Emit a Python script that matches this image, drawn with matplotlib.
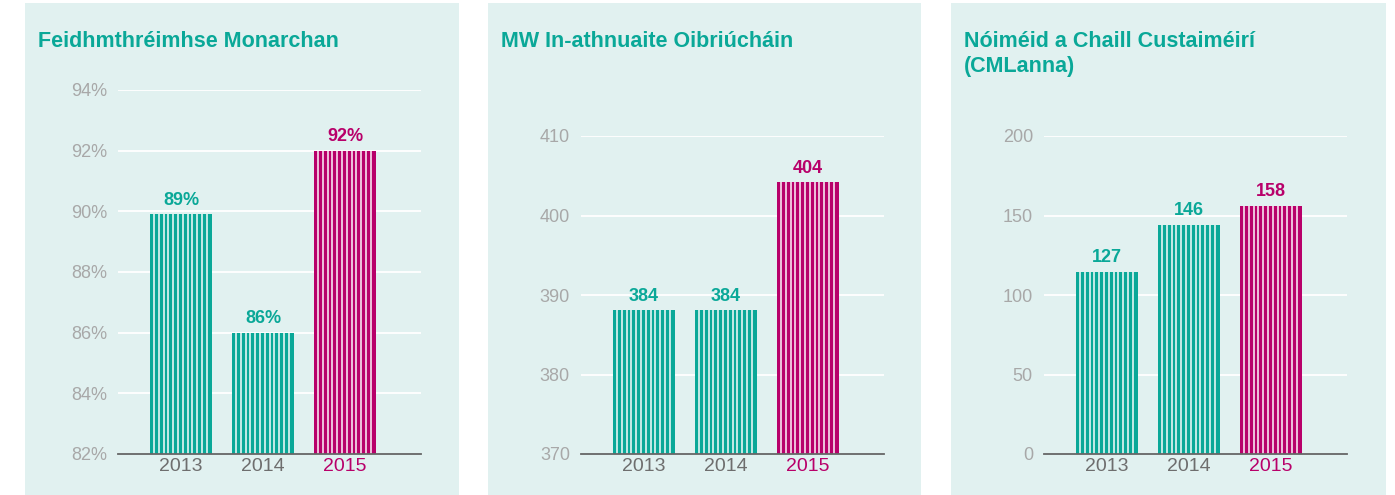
import matplotlib
matplotlib.use("Agg")
import matplotlib.pyplot as plt
from matplotlib.patches import Rectangle
import numpy as np

plt.rcParams['font.family'] = ['Liberation Sans', 'DejaVu Sans']

years = ["2013", "2014", "2015"]

titles = ["Feidhmthréimhse Monarchan",
          "MW In-athnuaite Oibriúcháin",
          "Nóiméid a Chaill Custaiméirí\n(CMLanna)"]

# bar heights as drawn
perf_values = [89.9, 86.0, 92.0]
mw_values = [388.1, 388.1, 404.2]
cml_values = [114.5, 144.0, 156.0]

# printed value labels
perf_labels = ["89%", "86%", "92%"]
mw_labels = ["384", "384", "404"]
cml_labels = ["127", "146", "158"]

perf_ticks = [82, 84, 86, 88, 90, 92, 94]
perf_ticklabels = ["82%", "84%", "86%", "88%", "90%", "92%", "94%"]
mw_ticks = [370, 380, 390, 400, 410]
cml_ticks = [0, 50, 100, 150, 200]

TEAL = "#0AA898"
MAGENTA = "#B8006A"
BG = "#E1F1F0"
GRAY_TICK = "#A8A8A8"
GRAY_X = "#6E6E6E"

W, H = 1395, 495
fig = plt.figure(figsize=(W / 100, H / 100), dpi=100)

panels = [
    dict(bg=(25, 459), ax=(118, 421), top=90, vals=perf_values, labs=perf_labels,
         ticks=perf_ticks, ticklabels=perf_ticklabels, ylim=(82, 94)),
    dict(bg=(488, 921), ax=(581, 884), top=136, vals=mw_values, labs=mw_labels,
         ticks=mw_ticks, ticklabels=[str(t) for t in mw_ticks], ylim=(370, 410)),
    dict(bg=(951, 1386), ax=(1044, 1347), top=136, vals=cml_values, labs=cml_labels,
         ticks=cml_ticks, ticklabels=[str(t) for t in cml_ticks], ylim=(0, 200)),
]

bottom_px = 454
colors = [TEAL, TEAL, MAGENTA]
x = np.arange(len(years))

for i, p in enumerate(panels):
    bx0, bx1 = p['bg']
    fig.patches.append(Rectangle((bx0 / W, 0), (bx1 - bx0) / W, (H - 3) / H,
                                 transform=fig.transFigure, facecolor=BG,
                                 edgecolor='none', zorder=-10))
    ax0, ax1 = p['ax']
    ax = fig.add_axes([ax0 / W, 1 - bottom_px / H, (ax1 - ax0) / W, (bottom_px - p['top']) / H])
    ax.set_facecolor('none')
    ax.set_xlim(-0.768, 2.927)
    ax.set_ylim(*p['ylim'])
    ax.set_yticks(p['ticks'])
    ax.set_yticklabels(p['ticklabels'])
    for t in p['ticks'][1:]:
        ax.axhline(t, color='white', lw=1.3, zorder=0)
    bars = ax.bar(x, p['vals'], width=0.756, color=colors, zorder=2,
                  bottom=0 if p['ylim'][0] == 0 else None)
    # stripes
    px_per_unit = (ax1 - ax0) / 3.695
    step = 4.8 / px_per_unit
    off = 4.0 / px_per_unit
    for b in bars:
        x0 = b.get_x()
        x1 = x0 + b.get_width()
        xs = np.arange(x0 + off, x1 - off * 0.9, step)
        ax.vlines(xs, p['ylim'][0], b.get_height(), color='white', alpha=0.85,
                  lw=1.25, zorder=3)
    for j, b in enumerate(bars):
        ax.annotate(p['labs'][j], (b.get_x() + b.get_width() / 2, b.get_height()),
                    xytext=(0, 4), textcoords='offset points', ha='center', va='bottom',
                    fontsize=13, fontweight='bold', color=colors[j], zorder=4)
    ax.set_xticks(x)
    ax.set_xticklabels(years)
    for j, lbl in enumerate(ax.get_xticklabels()):
        lbl.set_color(GRAY_X if j < 2 else MAGENTA)
    ax.tick_params(axis='x', length=0, pad=3, labelsize=14)
    ax.tick_params(axis='y', length=0, pad=8, labelsize=13, labelcolor=GRAY_TICK)
    for s in ['top', 'right', 'left']:
        ax.spines[s].set_visible(False)
    ax.spines['bottom'].set_color('#666666')
    ax.spines['bottom'].set_linewidth(1.3)
    ax.spines['bottom'].set_zorder(5)
    for k, line in enumerate(titles[i].split("\n")):
        fig.text((bx0 + 13) / W, 1 - (47 + 25 * k) / H, line, fontsize=15.5,
                 fontweight='bold', color=TEAL, ha='left', va='baseline')

fig.savefig("out.png", dpi=100)
